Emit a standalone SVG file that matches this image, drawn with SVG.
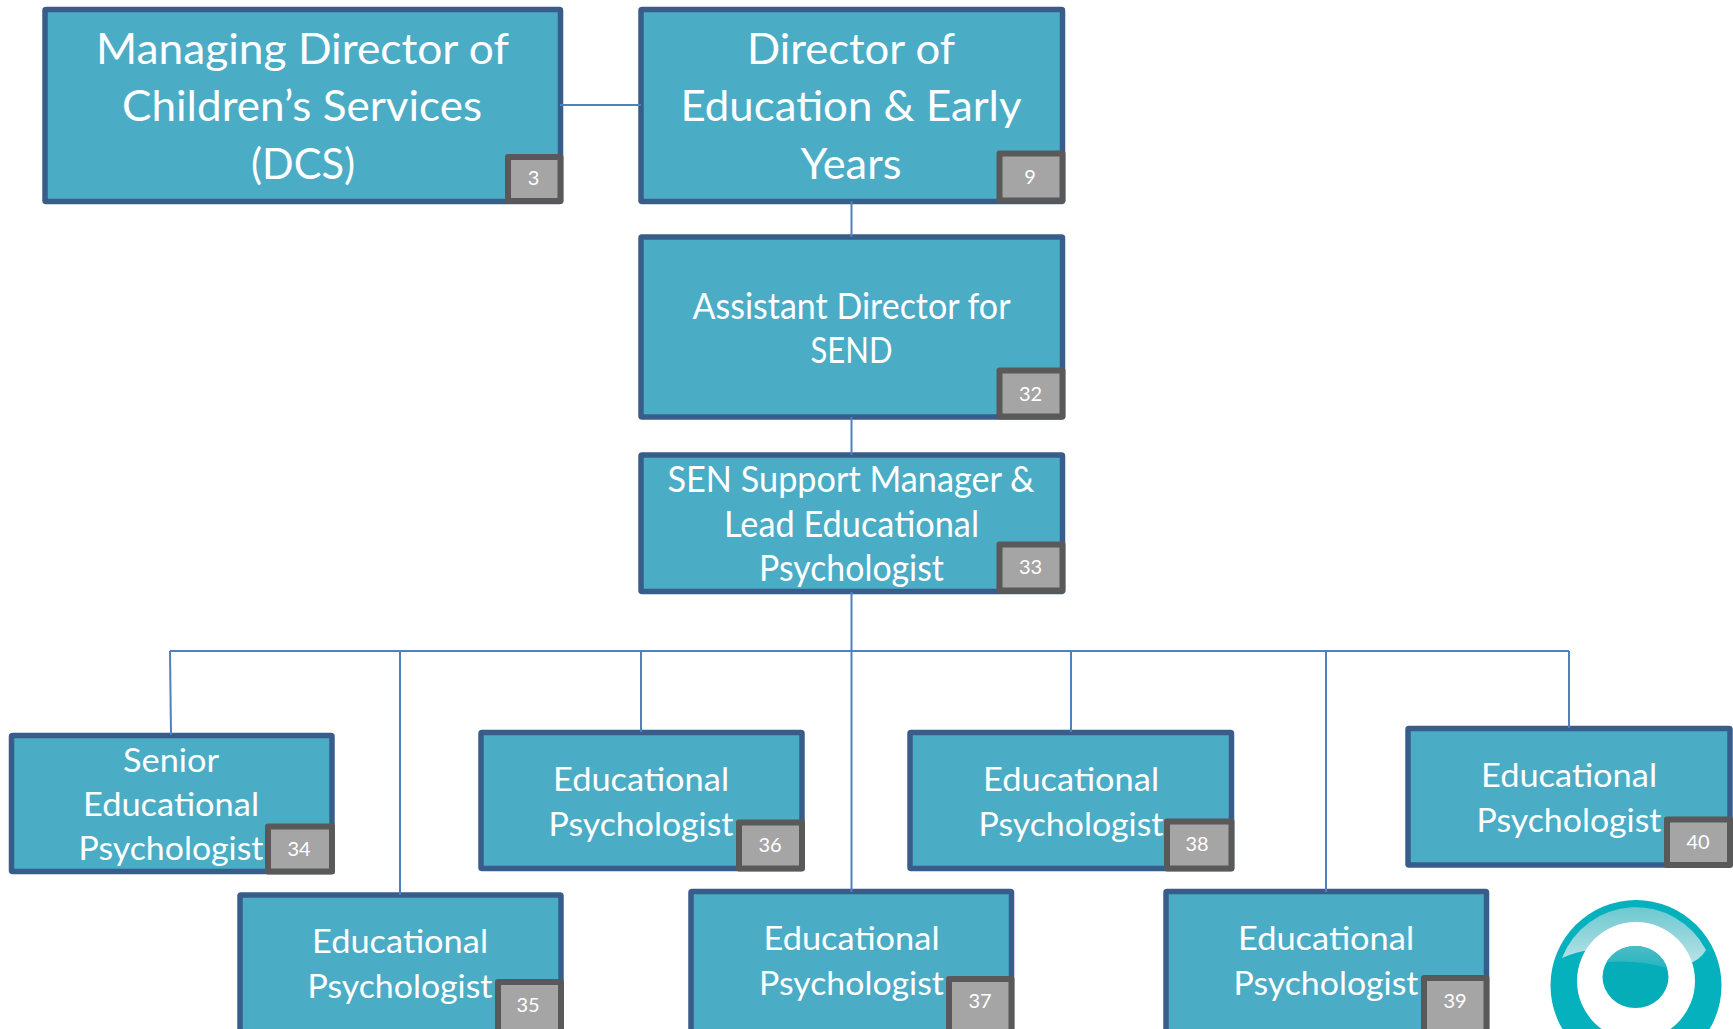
<svg xmlns="http://www.w3.org/2000/svg" width="1733" height="1029" viewBox="0 0 1733 1029">
<style>
.box{fill:#4bacc6;stroke:#385d8a;stroke-width:5.500;stroke-linejoin:round}
.badge{fill:#a5a5a5;stroke:#595959;stroke-width:6;stroke-linejoin:round}
.t{font-family:Lato,"Open Sans","Liberation Sans",sans-serif;fill:#fff;text-anchor:middle}
.l{font-size:42px}.m{font-size:36px}.s{font-size:33px}
.n{font-family:Lato,"Open Sans","Liberation Sans",sans-serif;fill:#fff;text-anchor:middle;font-size:20px}
.c{fill:none;stroke:#4f81bd;stroke-width:2}
</style>
<defs>
<linearGradient id="dot" x1="0" y1="0" x2="0" y2="1"><stop offset="0" stop-color="#4cbcc6"/><stop offset="1" stop-color="#28b4bf"/></linearGradient>
<linearGradient id="hl" x1="0" y1="0" x2="0" y2="1"><stop offset="0" stop-color="#6cc8d0"/><stop offset=".6" stop-color="#9ad8de"/><stop offset="1" stop-color="#b8e4e8"/></linearGradient>
</defs>
<rect width="1733" height="1029" fill="#fff"/>
<g id="node-3">
<rect class="box" x="45" y="9.500" width="515.500" height="192" rx="1"/>
<text class="t l" x="302.500" y="64" textLength="413" lengthAdjust="spacingAndGlyphs">Managing Director of</text>
<text class="t l" x="302" y="121" textLength="360" lengthAdjust="spacingAndGlyphs">Children’s Services</text>
<text class="t l" x="303" y="179" textLength="104" lengthAdjust="spacingAndGlyphs">(DCS)</text>
<rect class="badge" x="508" y="157" width="52.500" height="44"/>
<text class="n" x="533.500" y="185">3</text>
</g>
<g id="node-9">
<rect class="box" x="641" y="9.500" width="421.500" height="192" rx="1"/>
<text class="t l" x="851" y="64" textLength="208" lengthAdjust="spacingAndGlyphs">Director of</text>
<text class="t l" x="851" y="121" textLength="341" lengthAdjust="spacingAndGlyphs">Education &amp; Early</text>
<text class="t l" x="851" y="179" textLength="101" lengthAdjust="spacingAndGlyphs">Years</text>
<rect class="badge" x="999.500" y="153.500" width="63" height="47"/>
<text class="n" x="1030" y="183.500">9</text>
</g>
<g id="node-32">
<rect class="box" x="641" y="237" width="421.500" height="180" rx="1"/>
<text class="t m" x="851.500" y="319" textLength="318" lengthAdjust="spacingAndGlyphs">Assistant Director for</text>
<text class="t m" x="851.500" y="363" textLength="82" lengthAdjust="spacingAndGlyphs">SEND</text>
<rect class="badge" x="999.500" y="370.500" width="63" height="46"/>
<text class="n" x="1030.500" y="401">32</text>
</g>
<g id="node-33">
<rect class="box" x="641" y="455" width="421.500" height="136.500" rx="1"/>
<text class="t m" x="851" y="492" textLength="367" lengthAdjust="spacingAndGlyphs">SEN Support Manager &amp;</text>
<text class="t m" x="851.500" y="537" textLength="255" lengthAdjust="spacingAndGlyphs">Lead Educational</text>
<text class="t m" x="851.500" y="581" textLength="185" lengthAdjust="spacingAndGlyphs">Psychologist</text>
<rect class="badge" x="999.500" y="544.500" width="63" height="46"/>
<text class="n" x="1030.500" y="574">33</text>
</g>
<g id="node-34">
<rect class="box" x="11.500" y="735.500" width="320.500" height="136" rx="1"/>
<text class="t s" x="171" y="772" textLength="96" lengthAdjust="spacingAndGlyphs">Senior</text>
<text class="t s" x="171" y="815.500" textLength="176" lengthAdjust="spacingAndGlyphs">Educational</text>
<text class="t s" x="171" y="860" textLength="185" lengthAdjust="spacingAndGlyphs">Psychologist</text>
<rect class="badge" x="268" y="826.500" width="64" height="45"/>
<text class="n" x="299" y="856">34</text>
</g>
<g id="node-36">
<rect class="box" x="481" y="732.500" width="321" height="136" rx="1"/>
<text class="t s" x="641" y="791" textLength="176" lengthAdjust="spacingAndGlyphs">Educational</text>
<text class="t s" x="641" y="835.500" textLength="185" lengthAdjust="spacingAndGlyphs">Psychologist</text>
<rect class="badge" x="739" y="822.500" width="63" height="46"/>
<text class="n" x="770" y="852">36</text>
</g>
<g id="node-38">
<rect class="box" x="910" y="732.500" width="321.500" height="136" rx="1"/>
<text class="t s" x="1071" y="791" textLength="176" lengthAdjust="spacingAndGlyphs">Educational</text>
<text class="t s" x="1071" y="835.500" textLength="185" lengthAdjust="spacingAndGlyphs">Psychologist</text>
<rect class="badge" x="1167" y="821.500" width="64.500" height="47"/>
<text class="n" x="1197" y="851">38</text>
</g>
<g id="node-40">
<rect class="box" x="1408" y="728.500" width="322" height="136.500" rx="1"/>
<text class="t s" x="1569" y="787" textLength="176" lengthAdjust="spacingAndGlyphs">Educational</text>
<text class="t s" x="1569" y="832" textLength="185" lengthAdjust="spacingAndGlyphs">Psychologist</text>
<rect class="badge" x="1667" y="819.500" width="63" height="45.500"/>
<text class="n" x="1698" y="849">40</text>
</g>
<g id="node-35">
<rect class="box" x="240" y="895" width="321" height="160" rx="1"/>
<text class="t s" x="400" y="952.500" textLength="176" lengthAdjust="spacingAndGlyphs">Educational</text>
<text class="t s" x="400" y="998" textLength="185" lengthAdjust="spacingAndGlyphs">Psychologist</text>
<rect class="badge" x="498" y="982" width="63" height="60"/>
<text class="n" x="528" y="1012">35</text>
</g>
<g id="node-37">
<rect class="box" x="691" y="891.500" width="320.500" height="160" rx="1"/>
<text class="t s" x="851.500" y="950" textLength="176" lengthAdjust="spacingAndGlyphs">Educational</text>
<text class="t s" x="851.500" y="994.500" textLength="185" lengthAdjust="spacingAndGlyphs">Psychologist</text>
<rect class="badge" x="949" y="979" width="62.500" height="60"/>
<text class="n" x="980" y="1008">37</text>
</g>
<g id="node-39">
<rect class="box" x="1166" y="891.500" width="320.500" height="160" rx="1"/>
<text class="t s" x="1326" y="950" textLength="176" lengthAdjust="spacingAndGlyphs">Educational</text>
<text class="t s" x="1326" y="994.500" textLength="185" lengthAdjust="spacingAndGlyphs">Psychologist</text>
<rect class="badge" x="1424" y="978" width="62.500" height="60"/>
<text class="n" x="1455" y="1008">39</text>
</g>
<g id="connectors">
<path class="c" d="M560 105H641"/>
<path class="c" d="M851.500 201V237"/>
<path class="c" d="M851.500 417V455"/>
<path class="c" d="M851.500 592V892"/>
<path class="c" d="M170 651H1569"/>
<path class="c" d="M170 651L171 735"/>
<path class="c" d="M400 651V895"/>
<path class="c" d="M641 651V732"/>
<path class="c" d="M1071 651V732"/>
<path class="c" d="M1326 651V892"/>
<path class="c" d="M1569 651V728"/>
</g>
<g id="logo">
<circle cx="1636" cy="985.500" r="85.500" fill="#05b1bd"/>
<path d="M1562 958A79 79 0 0 1 1706 950Q1700 960 1688 964L1590 950Q1575 952 1562 958Z" fill="url(#hl)"/>
<circle cx="1636" cy="981" r="59" fill="#fff"/>
<ellipse cx="1635.500" cy="977" rx="33" ry="31" fill="#05adb9"/>
<path d="M1606.600 962A33 31 0 0 1 1667.100 968Q1640 960 1606.600 962Z" fill="url(#dot)"/>
</g>
</svg>
